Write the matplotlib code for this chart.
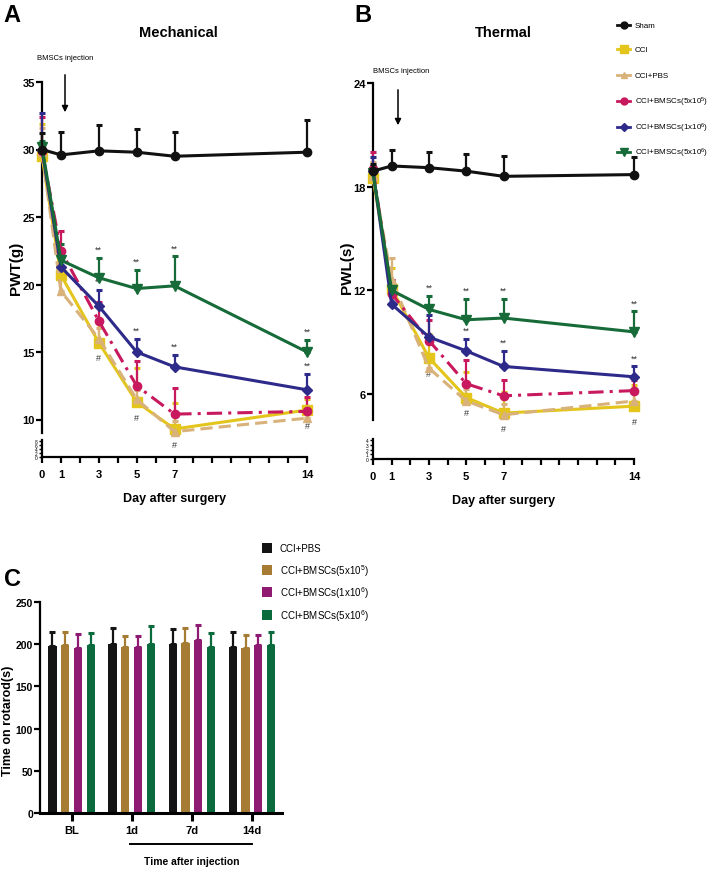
import numpy as np
import matplotlib
matplotlib.use('Agg')
import matplotlib.pyplot as plt
from matplotlib import font_manager as fm
from matplotlib.lines import Line2D
from matplotlib.patches import Rectangle, FancyArrowPatch

names = {f.name for f in fm.fontManager.ttflist}
NARROW = 'Liberation Sans Narrow' if 'Liberation Sans Narrow' in names else 'Liberation Sans'
plt.rcParams['font.family'] = [NARROW, 'DejaVu Sans']
plt.rcParams['mathtext.fontset'] = 'custom'
plt.rcParams['mathtext.rm'] = NARROW
plt.rcParams['mathtext.bf'] = NARROW + ':bold'
plt.rcParams['mathtext.default'] = 'regular'

# ---------------- data ----------------
days = [0, 1, 3, 5, 7, 14]
day_ticks = [0, 1, 3, 5, 7, 14]
groups = ['Sham', 'CCI', 'CCI+PBS', r'CCI+BMSCs(5x10$^{5}$)',
          r'CCI+BMSCs(1x10$^{6}$)', r'CCI+BMSCs(5x10$^{6}$)']

# Mechanical (PWT, g): mean and top of error bar
mech_sham = [30.0, 29.6, 29.9, 29.8, 29.5, 29.8]
mech_sham_top = [31.2, 31.3, 31.8, 31.5, 31.3, 32.2]
mech_cci = [29.5, 20.7, 15.7, 11.3, 9.3, 10.7]
mech_cci_top = [31.9, 22.2, 17.4, 13.8, 11.2, 11.5]
mech_pbs = [29.8, 19.5, 16.0, 11.5, 9.1, 10.1]
mech_pbs_top = [31.6, 20.5, 16.8, 12.2, 9.9, 10.9]
mech_b5e5 = [29.9, 22.5, 17.3, 12.5, 10.4, 10.6]
mech_b5e5_top = [32.4, 24.0, 18.7, 14.3, 12.3, 11.7]
mech_b1e6 = [30.0, 21.3, 18.4, 15.0, 13.9, 12.2]
mech_b1e6_top = [32.7, 22.3, 19.6, 16.0, 14.8, 13.4]
mech_b5e6 = [30.2, 21.8, 20.5, 19.7, 19.9, 15.0]
mech_b5e6_top = [30.6, 23.0, 22.0, 21.1, 22.1, 15.9]

# Thermal (PWL, s)
therm_sham = [18.9, 19.2, 19.1, 18.9, 18.6, 18.7]
therm_sham_top = [19.3, 20.1, 20.0, 19.9, 19.8, 19.7]
therm_cci = [18.5, 12.1, 8.1, 5.8, 4.9, 5.3]
therm_cci_top = [19.1, 13.3, 9.5, 7.3, 6.1, 6.5]
therm_pbs = [18.6, 12.6, 7.5, 5.6, 4.8, 5.6]
therm_pbs_top = [19.4, 13.9, 8.3, 6.3, 5.4, 6.2]
therm_b5e5 = [19.0, 11.8, 9.1, 6.6, 5.9, 6.2]
therm_b5e5_top = [20.0, 12.6, 10.3, 8.0, 6.8, 6.8]
therm_b1e6 = [18.9, 11.2, 9.3, 8.5, 7.6, 7.0]
therm_b1e6_top = [19.7, 11.6, 10.6, 9.2, 8.5, 7.6]
therm_b5e6 = [18.8, 12.0, 10.9, 10.3, 10.4, 9.6]
therm_b5e6_top = [19.2, 12.4, 11.7, 11.5, 11.5, 10.8]

sig_days = [3, 5, 7, 14]

# Rotarod (s)
rot_times = ['BL', '1d', '7d', '14d']
rot_groups = ['CCI+PBS', r'CCI+BMSCs(5x10$^{5}$)', r'CCI+BMSCs(1x10$^{6}$)',
              r'CCI+BMSCs(5x10$^{6}$)']
rot_pbs = [198, 200, 200, 197]
rot_pbs_top = [215, 219, 218, 215]
rot_b5e5 = [199, 197, 202, 196]
rot_b5e5_top = [215, 210, 219, 211]
rot_b1e6 = [196, 197, 205, 199]
rot_b1e6_top = [212, 210, 223, 211]
rot_b5e6 = [199, 200, 197, 199]
rot_b5e6_top = [213, 221, 213, 215]

# ---------------- styles ----------------
line_colors = ['#111111', '#E3C51C', '#D8B27A', '#C8185E', '#2E2A8A', '#166B38']
line_markers = ['o', 's', '^', 'o', 'D', 'v']
line_styles = ['-', '-', (0, (4, 2)), (0, (5, 2, 1, 2)), '-', '-']
marker_sizes = [6, 6.5, 6, 6, 5, 7]
bar_colors = ['#141414', '#A67C34', '#8E1A72', '#0B6B3C']

W, H = 709, 870
fig = plt.figure(figsize=(W / 100, H / 100), dpi=100)


def rect(l, t, r, b):
    return [l / W, 1 - b / H, (r - l) / W, (b - t) / H]


def fx(px):
    return px / W


def fy(py):
    return 1 - py / H


SPW = 1.6


def style_upper(ax):
    for s in ['top', 'right', 'bottom']:
        ax.spines[s].set_visible(False)
    ax.spines['left'].set_linewidth(SPW)
    ax.tick_params(axis='x', bottom=False, labelbottom=False)
    ax.tick_params(axis='y', width=SPW, length=4, labelsize=8, pad=1)
    for t in ax.get_yticklabels():
        t.set_fontweight('bold')
    ax.patch.set_alpha(0)


def style_lower(ax, yt):
    for s in ['top', 'right']:
        ax.spines[s].set_visible(False)
    ax.spines['left'].set_linewidth(SPW)
    ax.spines['bottom'].set_linewidth(SPW)
    ax.set_xlim(0, 14)
    ax.set_xticks(day_ticks)
    ax.set_xticks(range(0, 15), minor=True)
    ax.tick_params(axis='x', which='both', width=SPW, length=4, labelsize=8, pad=5)
    ax.set_yticks(yt)
    ax.tick_params(axis='y', width=1, length=2, labelsize=3.5, pad=1)
    for t in ax.get_xticklabels():
        t.set_fontweight('bold')
    ax.patch.set_alpha(0)


def draw_panel(ax, means, tops):
    for i, (m, tp) in enumerate(zip(means, tops)):
        m = np.array(m, float)
        tp = np.array(tp, float)
        eb = ax.errorbar(days, m, yerr=[np.zeros_like(m), tp - m],
                         color=line_colors[i], marker=line_markers[i],
                         ls=line_styles[i], lw=2.2, ms=marker_sizes[i],
                         capsize=2.5, capthick=2.2, elinewidth=1.6,
                         clip_on=False, zorder=3 + (0 if i else 1))
        for art in eb.get_children():
            art.set_clip_on(False)


def annotate_sig(ax, means, tops):
    cci = means[1]
    b1e6_top = tops[4]
    b5e6_top = tops[5]
    for d in sig_days:
        k = days.index(d)
        for top in (b5e6_top, b1e6_top):
            ax.annotate('**', (d, top[k]), xytext=(0, 6), textcoords='offset points',
                        ha='center', va='center', fontsize=6.5, annotation_clip=False,
                        color='#333333')
        ax.annotate('#', (d, cci[k]), xytext=(0, -11), textcoords='offset points',
                    ha='center', va='center', fontsize=6.5, annotation_clip=False,
                    color='#333333')


# ---------------- Panel A ----------------
axA = fig.add_axes(rect(42, 83, 307, 434))
axA.set_xlim(0, 14)
axA.set_ylim(9, 35)
axA.set_yticks([10, 15, 20, 25, 30, 35])
mech_means = [mech_sham, mech_cci, mech_pbs, mech_b5e5, mech_b1e6, mech_b5e6]
mech_tops = [mech_sham_top, mech_cci_top, mech_pbs_top, mech_b5e5_top, mech_b1e6_top, mech_b5e6_top]
draw_panel(axA, mech_means, mech_tops)
annotate_sig(axA, mech_means, mech_tops)
style_upper(axA)
axAl = fig.add_axes(rect(42, 441, 307, 458))
axAl.set_ylim(0, 8.6)
style_lower(axAl, [0, 2, 4, 6, 8])
axAl.set_xlabel('Day after surgery', fontsize=9, fontweight='bold', labelpad=9)
fig.text(fx(16), fy(268), 'PWT(g)', rotation=90, ha='center', va='center',
         fontsize=11, fontweight='bold')
fig.text(fx(178), fy(33), 'Mechanical', ha='center', va='center',
         fontsize=10.5, fontweight='bold')
fig.text(fx(65), fy(58), 'BMSCs injection', ha='center', va='center', fontsize=5.5)
fig.add_artist(FancyArrowPatch((fx(65), fy(73)), (fx(65), fy(116)),
               transform=fig.transFigure, arrowstyle='-|>', mutation_scale=9, lw=1.1, color='black'))
fig.text(fx(12), fy(15), 'A', ha='center', va='center', fontsize=17, fontweight='bold')

# ---------------- Panel B ----------------
axB = fig.add_axes(rect(373, 84, 634, 421))
axB.set_xlim(0, 14)
axB.set_ylim(4.5, 24)
axB.set_yticks([6, 12, 18, 24])
therm_means = [therm_sham, therm_cci, therm_pbs, therm_b5e5, therm_b1e6, therm_b5e6]
therm_tops = [therm_sham_top, therm_cci_top, therm_pbs_top, therm_b5e5_top, therm_b1e6_top, therm_b5e6_top]
draw_panel(axB, therm_means, therm_tops)
annotate_sig(axB, therm_means, therm_tops)
style_upper(axB)
axBl = fig.add_axes(rect(373, 440, 634, 460))
axBl.set_ylim(0, 4.3)
style_lower(axBl, [0, 1, 2, 3, 4])
axBl.set_xlabel('Day after surgery', fontsize=9, fontweight='bold', labelpad=9)
fig.text(fx(347), fy(268), 'PWL(s)', rotation=90, ha='center', va='center',
         fontsize=11, fontweight='bold')
fig.text(fx(503), fy(33), 'Thermal', ha='center', va='center',
         fontsize=10.5, fontweight='bold')
fig.text(fx(401), fy(72), 'BMSCs injection', ha='center', va='center', fontsize=5.5)
fig.add_artist(FancyArrowPatch((fx(398), fy(88)), (fx(398), fy(129)),
               transform=fig.transFigure, arrowstyle='-|>', mutation_scale=9, lw=1.1, color='black'))
fig.text(fx(363), fy(15), 'B', ha='center', va='center', fontsize=17, fontweight='bold')

# legend for A/B (manual layout)
leg_rows = [26, 50, 76, 102, 128, 153]
for i, lab in enumerate(groups):
    yy = fy(leg_rows[i])
    fig.add_artist(Line2D([fx(617), fx(630)], [yy, yy], transform=fig.transFigure,
                          color=line_colors[i], lw=2))
    fig.add_artist(Line2D([fx(623.5)], [yy], transform=fig.transFigure,
                          color=line_colors[i], marker=line_markers[i],
                          ms=marker_sizes[i] - 1, ls='none'))
    fig.text(fx(635), yy, lab, ha='left', va='center', fontsize=5.8)

# ---------------- Panel C ----------------
axC = fig.add_axes(rect(40, 603, 282, 814))
x = np.arange(len(rot_times))
bw = 0.135
step = 0.215
rot_means = [rot_pbs, rot_b5e5, rot_b1e6, rot_b5e6]
rot_tops = [rot_pbs_top, rot_b5e5_top, rot_b1e6_top, rot_b5e6_top]
for i, (m, tp) in enumerate(zip(rot_means, rot_tops)):
    m = np.array(m, float)
    tp = np.array(tp, float)
    pos = x + (i - 1.5) * step
    axC.bar(pos, m, width=bw, color=bar_colors[i], zorder=2)
    axC.errorbar(pos, m, yerr=[np.zeros_like(m), tp - m], fmt='none',
                 ecolor=bar_colors[i], elinewidth=1.6, capsize=2.2, capthick=2.2, zorder=1)
axC.set_xlim(-0.53, 3.5)
axC.set_ylim(0, 250)
axC.set_yticks([0, 50, 100, 150, 200, 250])
axC.set_xticks(x)
axC.set_xticklabels(rot_times)
for s in ['top', 'right']:
    axC.spines[s].set_visible(False)
axC.spines['left'].set_linewidth(SPW)
axC.spines['bottom'].set_linewidth(2.2)
axC.tick_params(axis='x', width=2.2, length=6, labelsize=8, pad=3)
axC.tick_params(axis='y', width=SPW, length=4, labelsize=7.5, pad=1)
for t in axC.get_xticklabels() + axC.get_yticklabels():
    t.set_fontweight('bold')
fig.text(fx(8), fy(721), 'Time on rotarod(s)', rotation=90, ha='center', va='center',
         fontsize=9, fontweight='bold')
tr = axC.get_xaxis_transform()
axC.plot([x[1] - 0.03, x[3]], [-0.147, -0.147], transform=tr, color='black',
         lw=1.4, clip_on=False)
axC.text((x[1] + x[3]) / 2, -0.228, 'Time after injection', transform=tr, ha='center',
         va='center', fontsize=7.5, fontweight='bold')
fig.text(fx(12), fy(580), 'C', ha='center', va='center', fontsize=17, fontweight='bold')

leg_c_rows = [549, 571, 593, 616]
for i, lab in enumerate(rot_groups):
    yy = leg_c_rows[i]
    fig.add_artist(Rectangle((fx(262), fy(yy + 5)), 10 / W, 10 / H, transform=fig.transFigure,
                             facecolor=bar_colors[i], edgecolor='none'))
    fig.text(fx(280), fy(yy), lab, ha='left', va='center', fontsize=7)

fig.savefig('out.png', dpi=100)
